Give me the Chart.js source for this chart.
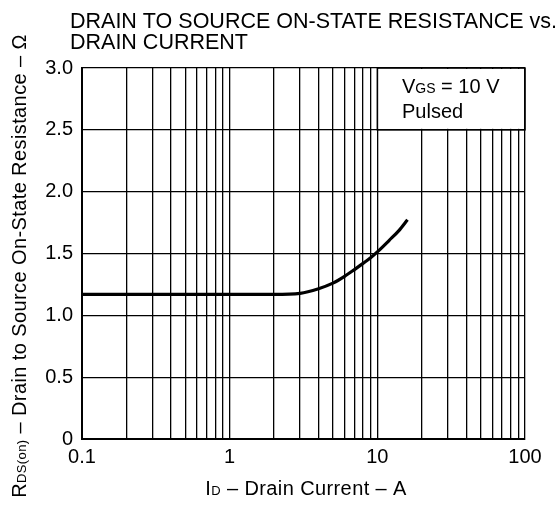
<!DOCTYPE html>
<html>
<head>
<meta charset="utf-8">
<script src="https://cdn.jsdelivr.net/npm/chart.js@4/dist/chart.umd.min.js"></script>
<style>
  html, body { margin: 0; padding: 0; background: #fff; }
  #wrap { width: 555px; height: 508px; }
</style>
</head>
<body>
<div id="wrap"><canvas id="chart" width="555" height="508"></canvas></div>
<script>
// data
const titleLines = ['DRAIN TO SOURCE ON-STATE RESISTANCE vs.', 'DRAIN CURRENT'];
const drainCurrent = [0.1, 0.5, 1, 2, 3, 4, 5, 6, 7, 8, 9, 10, 12, 14, 16];
const onResistance = [1.17, 1.17, 1.17, 1.17, 1.178, 1.215, 1.26, 1.315, 1.37, 1.42, 1.465, 1.513, 1.605, 1.685, 1.772];
const xTickValues = [0.1, 1, 10, 100];
const xTickLabels = ['0.1', '1', '10', '100'];
const yTickValues = [0, 0.5, 1.0, 1.5, 2.0, 2.5, 3.0];
const yTickLabels = ['0', '0.5', '1.0', '1.5', '2.0', '2.5', '3.0'];

const FONT = '"Liberation Sans", Arial, sans-serif';

// minor log grid: 1..9 in every decade
const xGrid = [];
for (let d = -1; d < 2; d++) {
  for (let m = 1; m < 10; m++) xGrid.push(Number((m * Math.pow(10, d)).toPrecision(3)));
}
xGrid.push(100);

function mixed(ctx, parts, x, y, align) {
  // parts: [text, size]
  let total = 0;
  parts.forEach(p => { ctx.font = p[1] + 'px ' + FONT; total += ctx.measureText(p[0]).width; });
  let cx = align === 'center' ? x - total / 2 : x;
  ctx.textAlign = 'left';
  ctx.textBaseline = 'alphabetic';
  parts.forEach(p => {
    ctx.font = p[1] + 'px ' + FONT;
    ctx.fillText(p[0], cx, y);
    cx += ctx.measureText(p[0]).width;
  });
}

const decor = {
  id: 'decor',
  afterDraw(chart) {
    const { ctx, chartArea, scales } = chart;
    const xs = scales.x, ys = scales.y;
    ctx.save();
    ctx.fillStyle = '#000';

    // title
    ctx.font = '21.5px ' + FONT;
    ctx.textAlign = 'left';
    ctx.textBaseline = 'alphabetic';
    ctx.fillText(titleLines[0], 70, 28);
    ctx.fillText(titleLines[1], 70, 48.5);

    // condition box in the top right
    const bx = xs.getPixelForValue(10), by = ys.getPixelForValue(2.5);
    ctx.fillStyle = '#fff';
    ctx.fillRect(bx + 1, chartArea.top + 1, chartArea.right - bx - 2, by - chartArea.top - 2);
    ctx.strokeStyle = '#000';
    ctx.lineWidth = 1.5;
    ctx.strokeRect(bx, chartArea.top, chartArea.right - bx, by - chartArea.top);
    ctx.fillStyle = '#000';
    mixed(ctx, [['V', 20], ['GS', 14], [' = 10 V', 20]], 402, 93);
    mixed(ctx, [['Pulsed', 20]], 402, 118);

    // axis titles
    ctx.letterSpacing = '0.4px';
    mixed(ctx, [['I', 20], ['D', 13], [' \u2013 Drain Current \u2013 A', 20]], 306, 495, 'center');

    ctx.translate(25.5, 266);
    ctx.rotate(-Math.PI / 2);
    mixed(ctx, [['R', 20], ['DS(on)', 13], [' \u2013 Drain to Source On-State Resistance \u2013 \u03A9', 20]], 0, 0, 'center');
    ctx.restore();
  }
};

new Chart(document.getElementById('chart'), {
  type: 'line',
  data: {
    datasets: [{
      data: drainCurrent.map((x, i) => ({ x: x, y: onResistance[i] })),
      borderColor: '#000',
      borderWidth: 3.2,
      pointRadius: 0,
      fill: false,
      cubicInterpolationMode: 'monotone'
    }]
  },
  options: {
    responsive: false,
    animation: false,
    events: [],
    layout: { padding: { top: 68, right: 30, left: 0, bottom: 0 } },
    plugins: { legend: { display: false }, tooltip: { enabled: false } },
    scales: {
      x: {
        type: 'logarithmic',
        min: 0.1,
        max: 100,
        afterBuildTicks: s => { s.ticks = xGrid.map(v => ({ value: v })); },
        afterFit: s => { s.height = 69; },
        grid: { color: '#000', lineWidth: 1.3, drawTicks: false },
        border: { color: '#000', width: 2 },
        ticks: {
          autoSkip: false,
          maxRotation: 0,
          padding: 6,
          color: '#000',
          font: { family: FONT, size: 20 },
          callback: v => {
            const i = xTickValues.findIndex(t => Math.abs(t - v) < 1e-9);
            return i >= 0 ? xTickLabels[i] : '';
          }
        }
      },
      y: {
        min: 0,
        max: 3,
        afterBuildTicks: s => { s.ticks = yTickValues.map(v => ({ value: v })); },
        afterFit: s => { s.width = 82; },
        grid: { color: '#000', lineWidth: 1.3, drawTicks: false },
        border: { color: '#000', width: 2 },
        ticks: {
          padding: 9,
          color: '#000',
          font: { family: FONT, size: 20 },
          callback: v => {
            const i = yTickValues.findIndex(t => Math.abs(t - v) < 1e-9);
            return i >= 0 ? yTickLabels[i] : '';
          }
        }
      }
    }
  },
  plugins: [decor]
});
</script>
</body>
</html>
